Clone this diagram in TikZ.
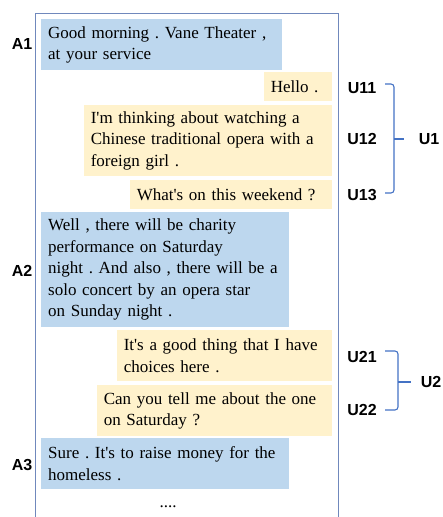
\documentclass[tikz,border=0pt]{standalone}
\usepackage{fontspec}
\setmainfont{Liberation Serif}
\newfontfamily\tagfont{Liberation Sans}
\usepackage{tikz}
\usetikzlibrary{positioning}
\usepackage{xcolor}
\definecolor{agentblue}{HTML}{BDD7EE}
\definecolor{useryellow}{HTML}{FFF2CC}
\definecolor{framecol}{RGB}{112,136,188}
\definecolor{bracecol}{HTML}{4472C4}
\frenchspacing
\newcommand{\q}{\textquotesingle}

\tikzset{
  bubble/.style={inner xsep=7pt, inner ysep=3pt, align=left,
    font=\fontsize{17}{21.5}\selectfont},
  abox/.style={bubble, fill=agentblue, anchor=north west},
  ubox/.style={bubble, fill=useryellow, anchor=north east},
  tag/.style={font=\tagfont\bfseries\fontsize{16}{19}\selectfont, inner sep=2pt},
  brace/.style={bracecol, line width=1.1pt, rounded corners=3pt}
}

\begin{document}
\begin{tikzpicture}[x=1pt,y=-1pt]
\useasboundingbox (0,0) rectangle (442,517);
% frame of the dialogue
\draw[framecol, line width=0.9pt] (35,517) -- (35,13) -- (338,13) -- (338,517);

% turns
\node[abox, text width=227pt, minimum height=51pt] (a1) at (41,19)
  {Good morning . Vane Theater ,\\ at your service};
\node[ubox, text width=54pt, minimum height=29pt] (u11) at (332,72) {Hello .};
\node[ubox, text width=234pt, minimum height=71pt] (u12) at (332,105)
  {I\q m thinking about watching a\\ Chinese traditional opera with a\\ foreign girl .};
\node[ubox, text width=188pt, minimum height=29pt] (u13) at (332,180) {What\q s on this weekend ?};
\node[abox, text width=234pt, minimum height=115pt] (a2) at (41,212)
  {Well , there will be charity\\ performance on Saturday\\ night . And also , there will be a\\ solo concert by an opera star\\ on Sunday night .};
\node[ubox, text width=201pt, minimum height=51pt] (u21) at (332,330)
  {It\q s a good thing that I have\\ choices here .};
\node[ubox, text width=221pt, minimum height=51pt] (u22) at (332,385)
  {Can you tell me about the one\\ on Saturday ?};
\node[abox, text width=234pt, minimum height=51pt] (a3) at (41,438)
  {Sure . It\q s to raise money for the\\ homeless .};
\node[font=\fontsize{17}{19}\selectfont] (more) at (168,507) {....};

% speaker tags
\node[tag] (ta1) at (22,44) {A1};
\node[tag] (ta2) at (22,271) {A2};
\node[tag] (ta3) at (22,465) {A3};
\node[tag] (tu11) at (362,88) {U11};
\node[tag] (tu12) at (362,139) {U12};
\node[tag] (tu13) at (362,195) {U13};
\node[tag] (tu21) at (362,357) {U21};
\node[tag] (tu22) at (362,410) {U22};
\node[tag] (tu1) at (429,139) {U1};
\node[tag] (tu2) at (431,382) {U2};

% brackets
\coordinate (b1s) at (385,84);
\coordinate (b1e) at (385,193);
\coordinate (b2s) at (385,351);
\coordinate (b2e) at (385,410);
\draw[brace] (b1s) -- (394,84) -- (394,193) -- (b1e);
\draw[brace] (394,139) -- (tu1.west -| 404,0);
\draw[brace] (b2s) -- (398,351) -- (398,410) -- (b2e);
\draw[brace] (398,382) -- (tu2.west -| 411,0);
\end{tikzpicture}
\end{document}
